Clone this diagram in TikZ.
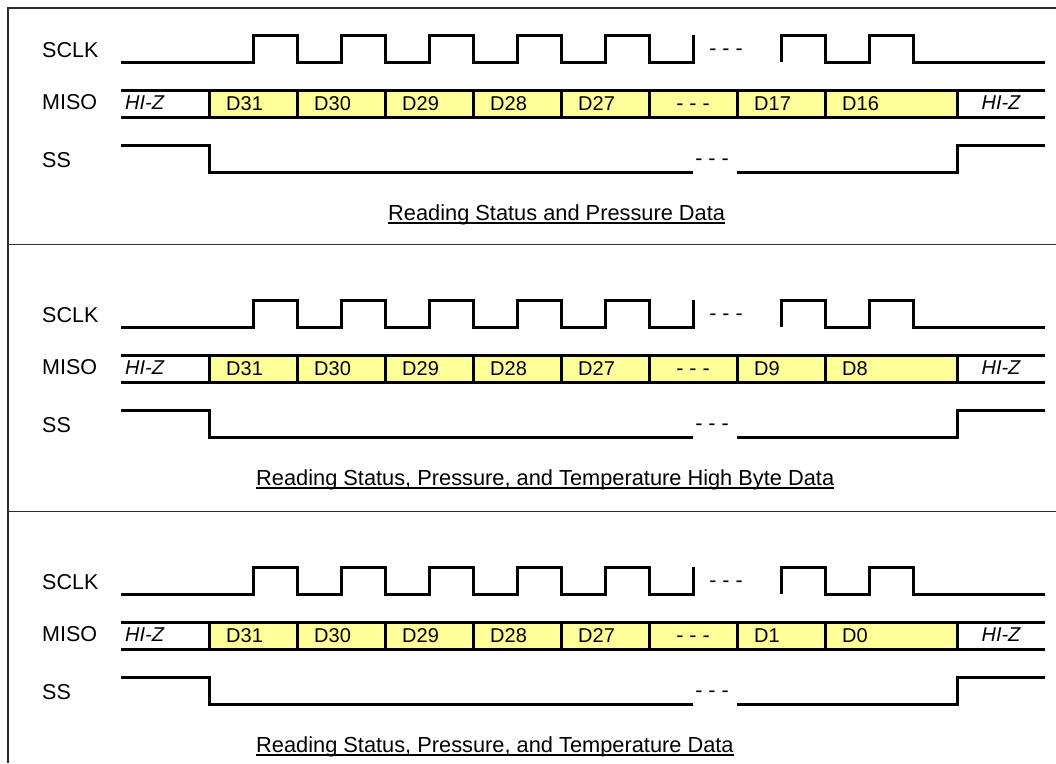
\documentclass[tikz,border=0pt]{standalone}
\usepackage{fontspec}
\setmainfont{Liberation Sans}
\definecolor{cellyellow}{RGB}{255,255,153}
\definecolor{framegray}{RGB}{45,45,45}
\tikzset{
  sig/.style={line width=3pt, line join=miter, line cap=butt},
  framel/.style={draw=framegray, line width=1.3pt},
  lbl/.style={anchor=base west, inner sep=0pt, font=\fontsize{21.5}{25}\selectfont},
  dlbl/.style={anchor=base west, inner sep=0pt, font=\fontsize{20}{23}\selectfont},
  hiz/.style={anchor=base west, inner sep=0pt, font=\fontsize{20}{24}\selectfont\itshape},
  dots/.style={anchor=base, inner sep=0pt, font=\fontsize{21.5}{25}\selectfont},
  captxt/.style={anchor=base west, inner sep=0pt, font=\fontsize{21.8}{25}\selectfont},
  uline/.style={line width=1.2pt}
}
\newcommand\tpanel[6]{%
\begin{scope}[shift={(0,#1)}]
  \node[lbl] (#2sclk) at (42,57) {SCLK};
  \node[lbl] (#2miso) at (42,109) {MISO};
  \node[lbl] (#2ss) at (42,167) {SS};
  % MISO bus
  \fill[cellyellow] (209,90) rectangle (957,117);
  \draw[sig] (121,90) -- (1045,90);
  \draw[sig] (121,117) -- (1045,117);
  \foreach \x in {209,297,385,473,561,649,737,825,957} \draw[sig] (\x,90) -- (\x,117);
  \foreach \t [count=\i] in {D31,D30,D29,D28,D27}
    \node[dlbl] (#2d\i) at ({209+88*(\i-1)+17},110) {\t};
  \node[dots] (#2ddots) at (693,110) {- - -};
  \node[dlbl] (#2da) at (754,110) {#3};
  \node[dlbl] (#2db) at (842,110) {#4};
  \node[hiz] (#2hza) at (125,109) {HI-Z};
  \node[hiz, anchor=base] (#2hzb) at (1001,109) {HI-Z};
  % SCLK
  \draw[sig] (121,62) -- (253,62) -- (253,35) -- (297,35) -- (297,62) -- (341,62)
    -- (341,35) -- (385,35) -- (385,62) -- (429,62) -- (429,35) -- (473,35)
    -- (473,62) -- (517,62) -- (517,35) -- (561,35) -- (561,62) -- (605,62)
    -- (605,35) -- (649,35) -- (649,62) -- (693,62) -- (693,35);
  \draw[sig] (781,62) -- (781,35) -- (825,35) -- (825,62) -- (869,62) -- (869,35)
    -- (913,35) -- (913,62) -- (1045,62);
  \node[dots] (#2cdots) at (726,55) {- - -};
  % SS
  \draw[sig] (121,145) -- (209,145) -- (209,172) -- (693,172);
  \draw[sig] (737,172) -- (957,172) -- (957,145) -- (1045,145);
  \node[dots] (#2sdots) at (712,165) {- - -};
  % caption
  \node[captxt] (#2cap) at (#5,220.5) {#6};
  \draw[uline] ([yshift=-2.5pt]#2cap.base west) -- ([yshift=-2.5pt]#2cap.base east);
\end{scope}}
\begin{document}
\begin{tikzpicture}[x=1pt,y=-1pt]
  \useasboundingbox (0,0) rectangle (1056,763);
  \draw[framel] (1056,8) -- (8,8) -- (8,763);
  \draw[framel] (8,244.5) -- (1056,244.5);
  \draw[framel] (8,511.7) -- (1056,511.7);
  \tpanel{0}{a}{D17}{D16}{388}{Reading Status and Pressure Data}
  \tpanel{265}{b}{D9}{D8}{256}{Reading Status, Pressure, and Temperature High Byte Data}
  \tpanel{532}{c}{D1}{D0}{256}{Reading Status, Pressure, and Temperature Data}
\end{tikzpicture}
\end{document}
